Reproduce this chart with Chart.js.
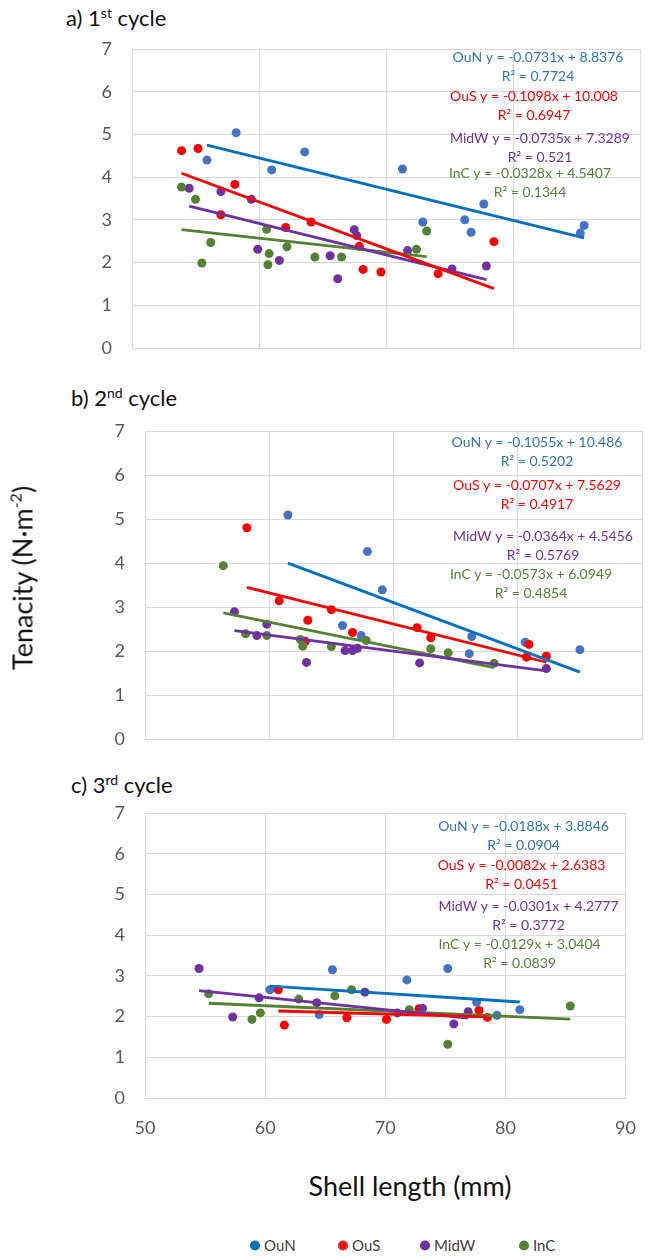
<!DOCTYPE html>
<html>
<head>
<meta charset="utf-8">
<script src="https://cdn.jsdelivr.net/npm/chart.js@4.4.1/dist/chart.umd.min.js"></script>
<style>
  body { margin: 0; background: #fff; font-family: Lato, 'Open Sans', sans-serif; }
  #page { position: relative; width: 655px; height: 1257px; overflow: hidden; }
  .panel { position: absolute; left: 0; }
  .ptitle { position: absolute; font-size: 22px; color: #111; line-height: 1; white-space: nowrap; }
  .ptitle sup { font-size: 14px; vertical-align: 8px; line-height: 0; }
  #ytitle { position: absolute; left: 22px; top: 578px; transform: translate(-50%, -50%) rotate(-90deg);
            font-size: 27px; color: #111; white-space: nowrap; line-height: 1; }
  #ytitle sup { font-size: 16px; vertical-align: 11px; line-height: 0; }
  #xtitle { position: absolute; left: 410px; top: 1185px; transform: translate(-50%, -50%);
            font-size: 27px; color: #111; white-space: nowrap; line-height: 1; }
  .leg { position: absolute; top: 1245px; transform: translateY(-50%); display: flex; align-items: center;
         font-size: 15px; color: #404040; white-space: nowrap; line-height: 1; }
  .leg i { display: inline-block; width: 10px; height: 10px; border-radius: 50%; margin-right: 4px; }
</style>
</head>
<body>
<div id="page">
  <div class="ptitle" style="left:66px;top:7px">a) 1<sup>st</sup> cycle</div>
  <div class="ptitle" style="left:71px;top:387px">b) 2<sup>nd</sup> cycle</div>
  <div class="ptitle" style="left:71px;top:774px">c) 3<sup>rd</sup> cycle</div>

  <canvas id="c1" class="panel" width="655" height="322" style="top:38px"></canvas>
  <canvas id="c2" class="panel" width="655" height="330" style="top:419px"></canvas>
  <canvas id="c3" class="panel" width="655" height="342" style="top:800px"></canvas>

  <div id="ytitle">Tenacity (N·m<sup>-2</sup>)</div>
  <div id="xtitle">Shell length (mm)</div>

  <div class="leg" style="left:250px"><i style="background:#0070C0"></i>OuN</div>
  <div class="leg" style="left:338px"><i style="background:#FF0000;box-shadow:inset 0 0 0 1.5px #C0504D"></i>OuS</div>
  <div class="leg" style="left:420px"><i style="background:#7030A0"></i>MidW</div>
  <div class="leg" style="left:519px"><i style="background:#548235"></i>InC</div>
</div>

<script>
// sites, in drawing order
const sites = ['OuN', 'OuS', 'MidW', 'InC'];
const pointColors = ['#4472C4', '#FF0000', '#7030A0', '#548235'];
const lineColors = ['#0070C0', '#FF0000', '#7030A0', '#548235'];
const textColors = ['#2E75B6', '#FF0000', '#7030A0', '#548235'];

// ---- 1st cycle: shell length (mm) / tenacity ----
const c1OuNx = [55.9, 58.2, 61.0, 63.6, 71.3, 72.9, 76.2, 76.7, 77.7, 85.3, 85.6];
const c1OuNy = [4.40, 5.04, 4.17, 4.59, 4.19, 2.95, 3.00, 2.71, 3.37, 2.69, 2.87];
const c1OuSx = [53.9, 55.2, 58.1, 57.0, 62.1, 64.1, 67.9, 68.2, 69.6, 74.1, 78.5];
const c1OuSy = [4.62, 4.67, 3.83, 3.12, 2.82, 2.95, 2.38, 1.84, 1.78, 1.74, 2.49];
const c1MidWx = [54.5, 57.0, 59.4, 59.9, 61.6, 65.6, 66.2, 67.5, 67.7, 71.7, 75.2, 77.9];
const c1MidWy = [3.74, 3.66, 3.48, 2.31, 2.05, 2.16, 1.62, 2.77, 2.63, 2.28, 1.85, 1.92];
const c1InCx = [53.9, 55.0, 55.5, 56.2, 60.6, 60.8, 60.7, 62.2, 64.4, 66.5, 72.4, 73.2];
const c1InCy = [3.77, 3.48, 1.99, 2.47, 2.78, 2.21, 1.95, 2.37, 2.13, 2.13, 2.31, 2.74];
const c1Slope = [-0.0731, -0.1098, -0.0735, -0.0328];
const c1Intercept = [8.8376, 10.008, 7.3289, 4.5407];
const c1R2 = [0.7724, 0.6947, 0.521, 0.1344];

// ---- 2nd cycle ----
const c2OuNx = [61.5, 67.9, 69.1, 65.9, 67.4, 76.3, 76.1, 80.6, 85.0];
const c2OuNy = [5.09, 4.26, 3.39, 2.58, 2.35, 2.33, 1.94, 2.20, 2.03];
const c2OuSx = [58.2, 60.8, 63.1, 65.0, 62.9, 66.7, 71.9, 73.0, 80.9, 80.7, 82.3];
const c2OuSy = [4.80, 3.14, 2.70, 2.94, 2.22, 2.42, 2.53, 2.30, 2.15, 1.86, 1.88];
const c2MidWx = [57.2, 59.0, 59.8, 63.0, 66.1, 66.7, 67.1, 72.1, 82.3];
const c2MidWy = [2.89, 2.35, 2.61, 1.74, 2.01, 2.01, 2.06, 1.73, 1.60];
const c2InCx = [56.3, 58.1, 59.8, 62.5, 62.7, 65.0, 67.8, 73.0, 74.4, 78.1];
const c2InCy = [3.94, 2.39, 2.35, 2.26, 2.11, 2.10, 2.24, 2.05, 1.96, 1.72];
const c2Slope = [-0.1055, -0.0707, -0.0364, -0.0573];
const c2Intercept = [10.486, 7.5629, 4.5456, 6.0949];
const c2R2 = [0.5202, 0.4917, 0.5769, 0.4854];

// ---- 3rd cycle ----
const c3OuNx = [60.4, 65.6, 64.5, 71.8, 75.2, 77.6, 79.3, 81.2];
const c3OuNy = [2.66, 3.15, 2.05, 2.90, 3.18, 2.35, 2.03, 2.17];
const c3OuSx = [61.1, 61.6, 66.8, 70.1, 72.8, 77.8, 78.5];
const c3OuSy = [2.66, 1.79, 1.97, 1.93, 2.19, 2.15, 1.98];
const c3MidWx = [54.5, 57.3, 59.5, 64.3, 68.3, 71.0, 73.1, 75.7, 76.9];
const c3MidWy = [3.18, 1.99, 2.46, 2.34, 2.60, 2.09, 2.20, 1.82, 2.12];
const c3InCx = [55.3, 58.9, 59.6, 62.8, 65.8, 67.2, 72.0, 75.2, 85.4];
const c3InCy = [2.56, 1.93, 2.09, 2.43, 2.51, 2.66, 2.17, 1.32, 2.26];
const c3Slope = [-0.0188, -0.0082, -0.0301, -0.0129];
const c3Intercept = [3.8846, 2.6383, 4.2777, 3.0404];
const c3R2 = [0.0904, 0.0451, 0.3772, 0.0839];

const xTicks = [50, 60, 70, 80, 90];
const yTicks = [0, 1, 2, 3, 4, 5, 6, 7];

const GRID = '#D9D9D9';
const TICK_FONT = { family: 'Lato', size: 18 };

Chart.defaults.font.family = 'Lato';
Chart.defaults.color = '#595959';

function pts(xs, ys) { return xs.map((x, i) => ({ x, y: ys[i] })); }

/* ---------- trendline equation labels ---------- */
const eqLabels = {
  id: 'eqLabels',
  afterDatasetsDraw(chart, args, opts) {
    const { ctx, chartArea } = chart;
    ctx.save();
    ctx.font = '14px Lato';
    ctx.textAlign = 'center';
    ctx.textBaseline = 'middle';
    sites.forEach((s, i) => {
      const cx = chartArea.right + opts.dx[i];
      const cy = chartArea.top + opts.dy[i];
      ctx.fillStyle = textColors[i];
      ctx.fillText(`${s} y = ${opts.slope[i]}x + ${opts.intercept[i]}`, cx, cy);
      ctx.fillText(`R² = ${opts.r2[i]}`, cx, cy + 19);
    });
    ctx.restore();
  },
};

/* ---------- one panel ---------- */
function makePanel(id, xs, ys, slope, intercept, r2, lay) {
  const datasets = [];
  sites.forEach((s, i) => {
    datasets.push({
      label: s,
      data: pts(xs[i], ys[i]),
      backgroundColor: pointColors[i],
      borderWidth: 0,
      pointRadius: 4.5,
      order: 4 - i + 1,
    });
  });
  // least-squares lines drawn from the stated equations over each series' range
  sites.forEach((s, i) => {
    const lo = Math.min(...xs[i]);
    const hi = Math.max(...xs[i]);
    datasets.push({
      label: s + ' fit',
      data: [
        { x: lo, y: slope[i] * lo + intercept[i] },
        { x: hi, y: slope[i] * hi + intercept[i] },
      ],
      showLine: true,
      borderColor: lineColors[i],
      borderWidth: 2.8,
      pointRadius: 0,
      order: 0,
    });
  });

  return new Chart(document.getElementById(id), {
    type: 'scatter',
    data: { datasets },
    plugins: [eqLabels],
    options: {
      responsive: false,
      animation: false,
      layout: { padding: lay.pad },
      plugins: {
        legend: { display: false },
        tooltip: { enabled: false },
        eqLabels: { slope, intercept, r2, dx: lay.dx, dy: lay.dy },
      },
      scales: {
        x: {
          type: 'linear',
          min: xTicks[0],
          max: xTicks[xTicks.length - 1],
          afterBuildTicks: sc => { sc.ticks = xTicks.map(v => ({ value: v })); },
          grid: { color: GRID, drawTicks: false },
          border: { color: GRID },
          ticks: { display: lay.showX, font: TICK_FONT, color: '#595959', padding: 19 },
          afterFit: sc => { sc.height = lay.xh; },
        },
        y: {
          min: yTicks[0],
          max: yTicks[yTicks.length - 1],
          afterBuildTicks: sc => { sc.ticks = yTicks.map(v => ({ value: v })); },
          grid: { color: GRID, drawTicks: false },
          border: { color: GRID },
          ticks: { font: TICK_FONT, color: '#595959', padding: 20 },
          // keep the label gap horizontal only; vertical room comes from layout padding
          afterFit: sc => { sc.width = lay.yw; sc.paddingTop = 0; sc.paddingBottom = 0; },
        },
      },
    },
  });
}

makePanel('c1',
  [c1OuNx, c1OuSx, c1MidWx, c1InCx], [c1OuNy, c1OuSy, c1MidWy, c1InCy],
  c1Slope, c1Intercept, c1R2,
  { pad: { top: 11, right: 15, bottom: 12, left: 0 }, yw: 132, xh: 0, showX: false,
    dx: [-102, -106, -100, -110], dy: [8, 47, 89, 124] });

makePanel('c2',
  [c2OuNx, c2OuSx, c2MidWx, c2InCx], [c2OuNy, c2OuSy, c2MidWy, c2InCy],
  c2Slope, c2Intercept, c2R2,
  { pad: { top: 12, right: 13, bottom: 10, left: 0 }, yw: 145, xh: 0, showX: false,
    dx: [-105, -105, -99, -111], dy: [11, 54, 105, 143] });

makePanel('c3',
  [c3OuNx, c3OuSx, c3MidWx, c3InCx], [c3OuNy, c3OuSy, c3MidWy, c3InCy],
  c3Slope, c3Intercept, c3R2,
  { pad: { top: 13, right: 14, bottom: 0, left: 0 }, yw: 145, xh: 44, showX: true,
    dx: [-102, -104, -97, -106], dy: [13, 52, 93, 131] });
</script>
</body>
</html>
